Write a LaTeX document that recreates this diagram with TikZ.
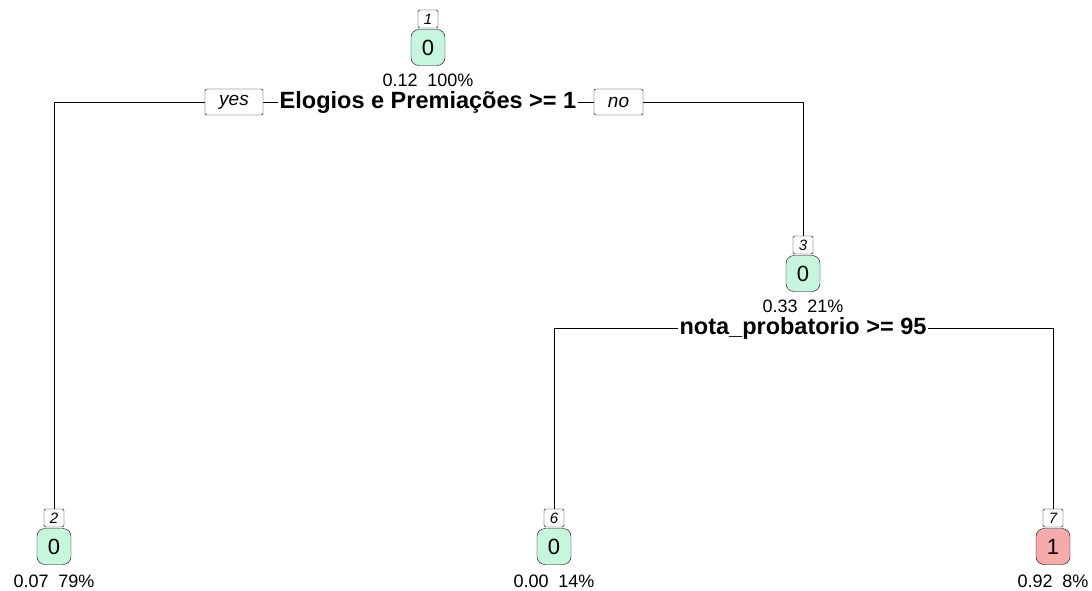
\documentclass[tikz,border=0pt]{standalone}
\usepackage{fontspec}
\setmainfont{Liberation Sans}
\definecolor{leafg}{RGB}{198,246,222}
\definecolor{leafr}{RGB}{247,170,170}
\newcommand{\gp}{\hspace{0.55em}}
\begin{document}
\begin{tikzpicture}[x=1pt,y=-1pt,
  numbox/.style={draw,fill=white,rounded corners=1.5pt,inner sep=0pt,minimum width=20pt,minimum height=18pt,font=\fontsize{15}{15}\selectfont\itshape},
  classbox/.style={draw,rounded corners=8pt,inner sep=0pt,minimum width=34pt,minimum height=36pt,font=\fontsize{22}{22}\selectfont},
  stat/.style={inner sep=0pt,font=\fontsize{18}{18}\selectfont},
  split/.style={fill=white,inner xsep=2pt,inner ysep=0pt,text height=12pt,text depth=3pt,font=\fontsize{23.5}{23.5}\selectfont\bfseries},
  lab/.style={draw,fill=white,rounded corners=2pt,inner sep=0pt,minimum width=58pt,minimum height=26pt,font=\fontsize{19}{19}\selectfont\itshape},
  edge/.style={draw,line width=0.6pt}]
\useasboundingbox (0,0) rectangle (1092,591);
% coordinates
\coordinate (c1) at (428,102);
\coordinate (c1l) at (54,102);
\coordinate (c1r) at (803,102);
\coordinate (c3) at (803,328);
\coordinate (c3l) at (554,328);
\coordinate (c3r) at (1053,328);
% nodes
\node[numbox] (n1) at (428,19) {1};
\node[classbox,fill=leafg] (b1) at (428,47.5) {0};
\node[stat] (s1) at (428,80) {0.12\gp 100\%};
\node[numbox] (n2) at (54,518) {2};
\node[classbox,fill=leafg] (b2) at (54,546.5) {0};
\node[stat] (s2) at (54,581) {0.07\gp 79\%};
\node[numbox] (n3) at (803,245) {3};
\node[classbox,fill=leafg] (b3) at (803,273.5) {0};
\node[stat] (s3) at (803,306) {0.33\gp 21\%};
\node[numbox] (n6) at (554,518) {6};
\node[classbox,fill=leafg] (b6) at (554,546.5) {0};
\node[stat] (s6) at (554,581) {0.00\gp 14\%};
\node[numbox] (n7) at (1053,518) {7};
\node[classbox,fill=leafr] (b7) at (1053,546.5) {1};
\node[stat] (s7) at (1053,581) {0.92\gp 8\%};
% edges
\draw[edge] (c1l) -- (c1r);
\draw[edge] (c1l) -- (n2.north);
\draw[edge] (c1r) -- (n3.north);
\draw[edge] (c3l) -- (c3r);
\draw[edge] (c3l) -- (n6.north);
\draw[edge] (c3r) -- (n7.north);
\node[split] (sp1) at (428,104) {Elogios e Premiações >= 1};
\node[split] (sp3) at (803,330) {nota\_probatorio >= 95};
\node[lab] (yes) at (234,102) {yes};
\node[lab,minimum width=49pt] (no) at (618.5,102) {no};
\end{tikzpicture}
\end{document}
